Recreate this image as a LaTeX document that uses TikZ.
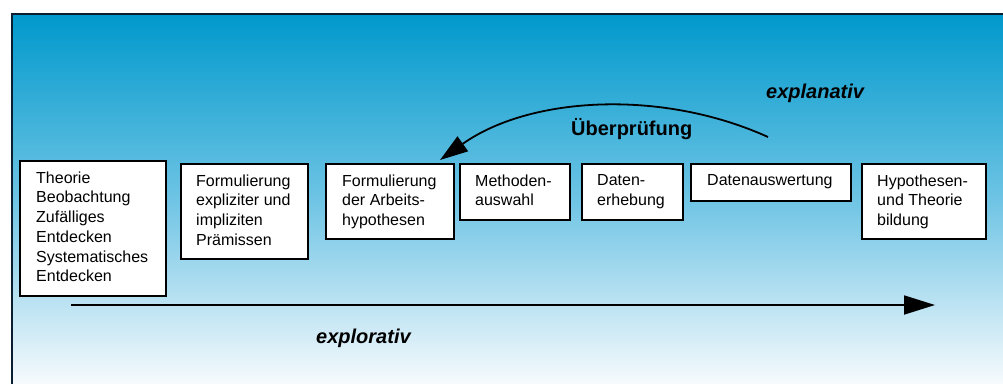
\documentclass[tikz,border=0pt]{standalone}
\usepackage{fontspec}
\setmainfont{Liberation Sans}
\usetikzlibrary{arrows.meta,calc}
\definecolor{bgtop}{RGB}{0,153,204}
\definecolor{bgmid}{RGB}{110,196,228}
\definecolor{bgbot}{RGB}{246,250,253}
\definecolor{framec}{RGB}{10,30,50}
\tikzset{
  box/.style={draw=black, line width=1.8pt, fill=white, inner sep=0pt, anchor=north west},
  txt/.style={anchor=north west, inner sep=0pt, align=left, font=\fontsize{16}{19.7}\selectfont},
  lbl/.style={inner sep=0pt, anchor=base west, font=\fontsize{20}{24}\selectfont\bfseries},
  ilbl/.style={inner sep=0pt, anchor=base west, font=\fontsize{20}{24}\selectfont\bfseries\itshape},
  conn/.style={line width=1.8pt, -{Triangle[length=28,width=18]}},
}
\begin{document}
\begin{tikzpicture}[x=1pt,y=-1pt]
\useasboundingbox (0,0) rectangle (1003,383);
\fill[white] (0,0) rectangle (1003,383);
\shade[top color=bgtop, bottom color=bgbot, middle color=bgmid] (12,14) rectangle (1003,383);
\draw[framec, line width=2pt] (12,385) -- (12,14) -- (1005,14);

% boxes
\node[box, minimum width=146, minimum height=135] (b1) at (19,160) {};
\node[box, minimum width=127, minimum height=95] (b2) at (180,163) {};
\node[box, minimum width=128, minimum height=75] (b3) at (325,163) {};
\node[box, minimum width=110, minimum height=56] (b4) at (459,163) {};
\node[box, minimum width=101, minimum height=56] (b5) at (581,163) {};
\node[box, minimum width=160, minimum height=37] (b6) at (690,163) {};
\node[box, minimum width=124, minimum height=75] (b7) at (861,163) {};

% texts
\node[txt] (t1) at ($(b1.north west)+(17,11.5)$) {Theorie\\Beobachtung\\Zufälliges\\Entdecken\\Systematisches\\Entdecken};
\node[txt] (t2) at ($(b2.north west)+(16,11.5)$) {Formulierung\\expliziter und\\impliziten\\Prämissen};
\node[txt] (t3) at ($(b3.north west)+(17,11.5)$) {Formulierung\\der Arbeits-\\hypothesen};
\node[txt] (t4) at ($(b4.north west)+(16,11.5)$) {Methoden-\\auswahl};
\node[txt] (t5) at ($(b5.north west)+(16,11.5)$) {Daten-\\erhebung};
\node[txt] (t6) at ($(b6.north west)+(17,11.5)$) {Datenauswertung};
\node[txt] (t7) at ($(b7.north west)+(16,11.5)$) {Hypothesen-\\und Theorie\\bildung};

% labels
\node[ilbl] (expl) at (766,98) {explanativ};
\node[lbl] (ueb) at (571,135) {Überprüfung};
\node[ilbl] (explo) at (316,343) {explorativ};

% connectors
\coordinate (us) at (768,137);
\coordinate (ue) at (440,160);
\draw[conn] (us) .. controls (662,89) and (530,96) .. (ue);
\coordinate (as) at (71,305);
\coordinate (ae) at (935,305);
\draw[conn, -{Triangle[length=31,width=19]}] (as) -- (ae);
\end{tikzpicture}
\end{document}
